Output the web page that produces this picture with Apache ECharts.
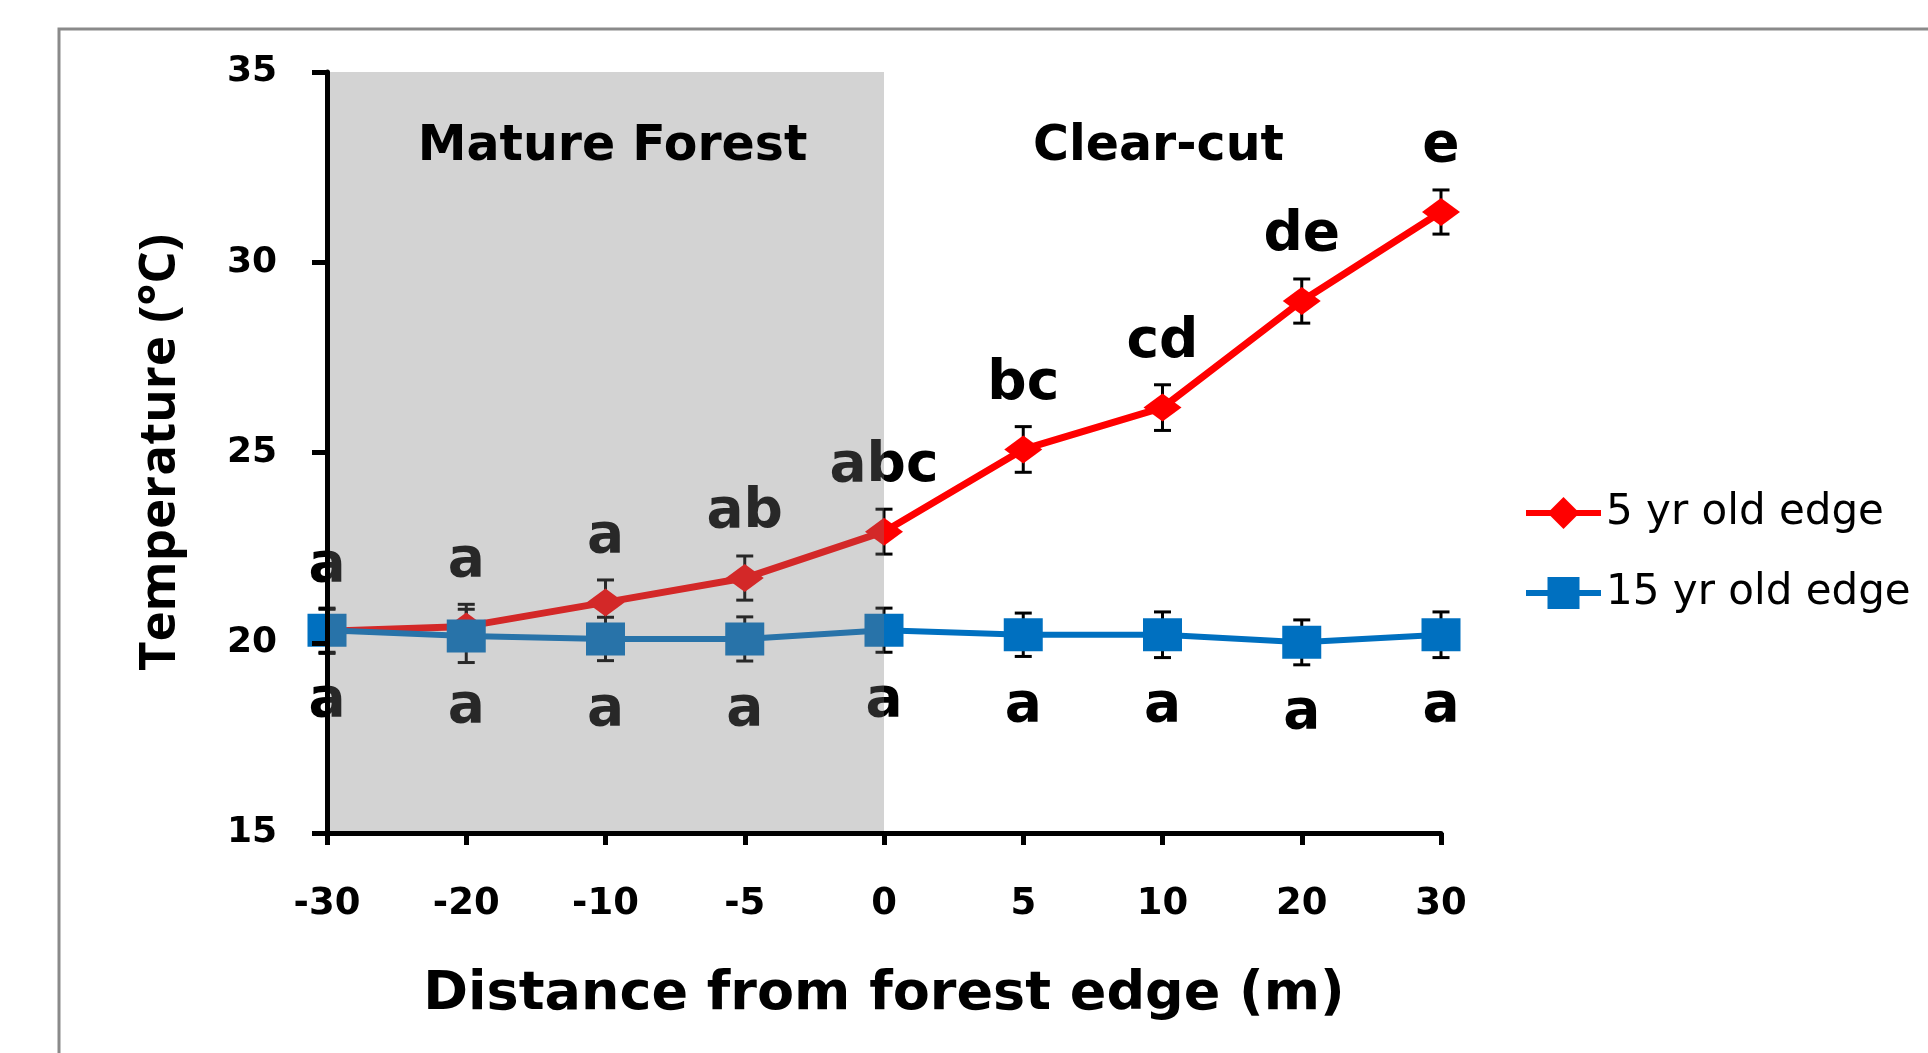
<!DOCTYPE html>
<html><head><meta charset="utf-8">
<script src="https://cdn.jsdelivr.net/npm/echarts@6/dist/echarts.min.js"></script>
<style>html,body{margin:0;padding:0;background:#fff}#c{width:1928px;height:1053px}</style>
</head><body><div id="c"></div>
<script>
const categories = ['-30','-20','-10','-5','0','5','10','20','30'];
const yTicks = [15, 20, 25, 30, 35];
const fiveYr = [20.30, 20.43, 21.06, 21.70, 22.92, 25.08, 26.18, 28.98, 31.32];
const fiveYrErr = [0.58, 0.58, 0.59, 0.58, 0.59, 0.60, 0.60, 0.58, 0.58];
const fifteenYr = [20.33, 20.18, 20.10, 20.10, 20.33, 20.21, 20.21, 20.01, 20.21];
const fifteenYrErr = [0.58, 0.70, 0.57, 0.58, 0.58, 0.57, 0.60, 0.59, 0.60];
const fiveYrLetters = ['a','a','a','ab','abc','bc','cd','de','e'];
const fifteenYrLetters = ['a','a','a','a','a','a','a','a','a'];
const seriesNames = ['5 yr old edge', '15 yr old edge'];
const zoneNames = ['Mature Forest', 'Clear-cut'];
const zoneBounds = [['-30', '0'], ['0', '30']];

const BOLD = 'DejaVu Sans';
const chart = echarts.init(document.getElementById('c'), null, {renderer: 'canvas'});

function errRender(params, api) {
  const x = api.value(0), v = api.value(1), e = api.value(2);
  const t = api.coord([x, v + e]);
  const b = api.coord([x, v - e]);
  const hw = 8.5;
  const st = {stroke: '#000', lineWidth: 3};
  return {type: 'group', children: [
    {type: 'line', shape: {x1: t[0], y1: t[1], x2: b[0], y2: b[1]}, style: st},
    {type: 'line', shape: {x1: t[0] - hw, y1: t[1], x2: t[0] + hw, y2: t[1]}, style: st},
    {type: 'line', shape: {x1: b[0] - hw, y1: b[1], x2: b[0] + hw, y2: b[1]}, style: st}
  ]};
}

const letterStyle = {fontFamily: BOLD, fontWeight: 'bold', fontSize: 55, lineHeight: 60, color: '#000'};

chart.setOption({
  animation: false,
  graphic: [{
    type: 'rect', z: 0, silent: true,
    shape: {x: 59, y: 29, width: 3000, height: 3000},
    style: {fill: 'none', stroke: '#8a8a8a', lineWidth: 3}
  }],
  grid: {left: 327, top: 72, right: 487, bottom: 220, containLabel: false},
  legend: {
    orient: 'vertical', left: 1518, top: 483,
    itemWidth: 75, itemHeight: 40, itemGap: 30,
    data: seriesNames,
    lineStyle: {width: 6},
    textStyle: {fontFamily: 'DejaVu Sans', fontSize: 42, lineHeight: 50, color: '#000'}
  },
  xAxis: {
    type: 'category', data: categories, boundaryGap: false, z: 20,
    axisLine: {lineStyle: {color: '#000', width: 5}},
    axisTick: {show: true, length: 12, interval: 0, lineStyle: {color: '#000', width: 5}},
    axisLabel: {interval: 0, margin: 49, fontFamily: BOLD, fontWeight: 'bold', fontSize: 37, lineHeight: 44, color: '#000'},
    splitLine: {show: false},
    name: 'Distance from forest edge (m)', nameLocation: 'middle', nameGap: 130,
    nameTextStyle: {fontFamily: BOLD, fontWeight: 'bold', fontSize: 54, lineHeight: 64, color: '#000'}
  },
  yAxis: {
    type: 'value', min: yTicks[0], max: yTicks[yTicks.length - 1], interval: yTicks[1] - yTicks[0], z: 20,
    axisLine: {show: true, lineStyle: {color: '#000', width: 5}},
    axisTick: {show: true, length: 15, lineStyle: {color: '#000', width: 5}},
    axisLabel: {margin: 50, fontFamily: BOLD, fontWeight: 'bold', fontSize: 36, color: '#000'},
    splitLine: {show: false},
    name: 'Temperature (°C)', nameLocation: 'middle', nameGap: 137,
    nameTextStyle: {fontFamily: '"Open Sans", sans-serif', fontWeight: 'bold', fontSize: 51, lineHeight: 60, color: '#000'}
  },
  series: [
    {
      type: 'custom', name: 'err5', z: 1, silent: true,
      renderItem: errRender,
      data: categories.map((c, i) => [i, fiveYr[i], fiveYrErr[i]])
    },
    {
      type: 'custom', name: 'err15', z: 1, silent: true,
      renderItem: errRender,
      data: categories.map((c, i) => [i, fifteenYr[i], fifteenYrErr[i]])
    },
    {
      type: 'line', name: seriesNames[0], z: 2, data: fiveYr,
      symbol: 'diamond', symbolSize: [38, 28],
      lineStyle: {color: '#ff0000', width: 7},
      itemStyle: {color: '#ff0000'},
      label: {show: true, position: 'top', distance: 21, formatter: p => fiveYrLetters[p.dataIndex], ...letterStyle},
      markArea: {
        z: 10, silent: true,
        label: {show: true, position: 'insideTop', distance: 47, fontFamily: BOLD, fontWeight: 'bold', fontSize: 49, lineHeight: 56, color: '#000'},
        data: [
          [{name: zoneNames[0], xAxis: zoneBounds[0][0], yAxis: yTicks[yTicks.length - 1], itemStyle: {color: 'rgba(121,121,121,0.33)'}, label: {offset: [7, 0]}},
           {xAxis: zoneBounds[0][1], yAxis: yTicks[0]}],
          [{name: zoneNames[1], xAxis: zoneBounds[1][0], yAxis: yTicks[yTicks.length - 1], itemStyle: {color: 'rgba(0,0,0,0)'}, label: {offset: [-4, 0]}},
           {xAxis: zoneBounds[1][1], yAxis: yTicks[0]}]
        ]
      }
    },
    {
      type: 'line', name: seriesNames[1], z: 3, data: fifteenYr,
      symbol: 'rect', symbolSize: [39, 33],
      lineStyle: {color: '#0070c0', width: 6},
      itemStyle: {color: '#0070c0'},
      label: {show: true, position: 'bottom', distance: 25, formatter: p => fifteenYrLetters[p.dataIndex], ...letterStyle}
    }
  ]
});
</script>
</body></html>
